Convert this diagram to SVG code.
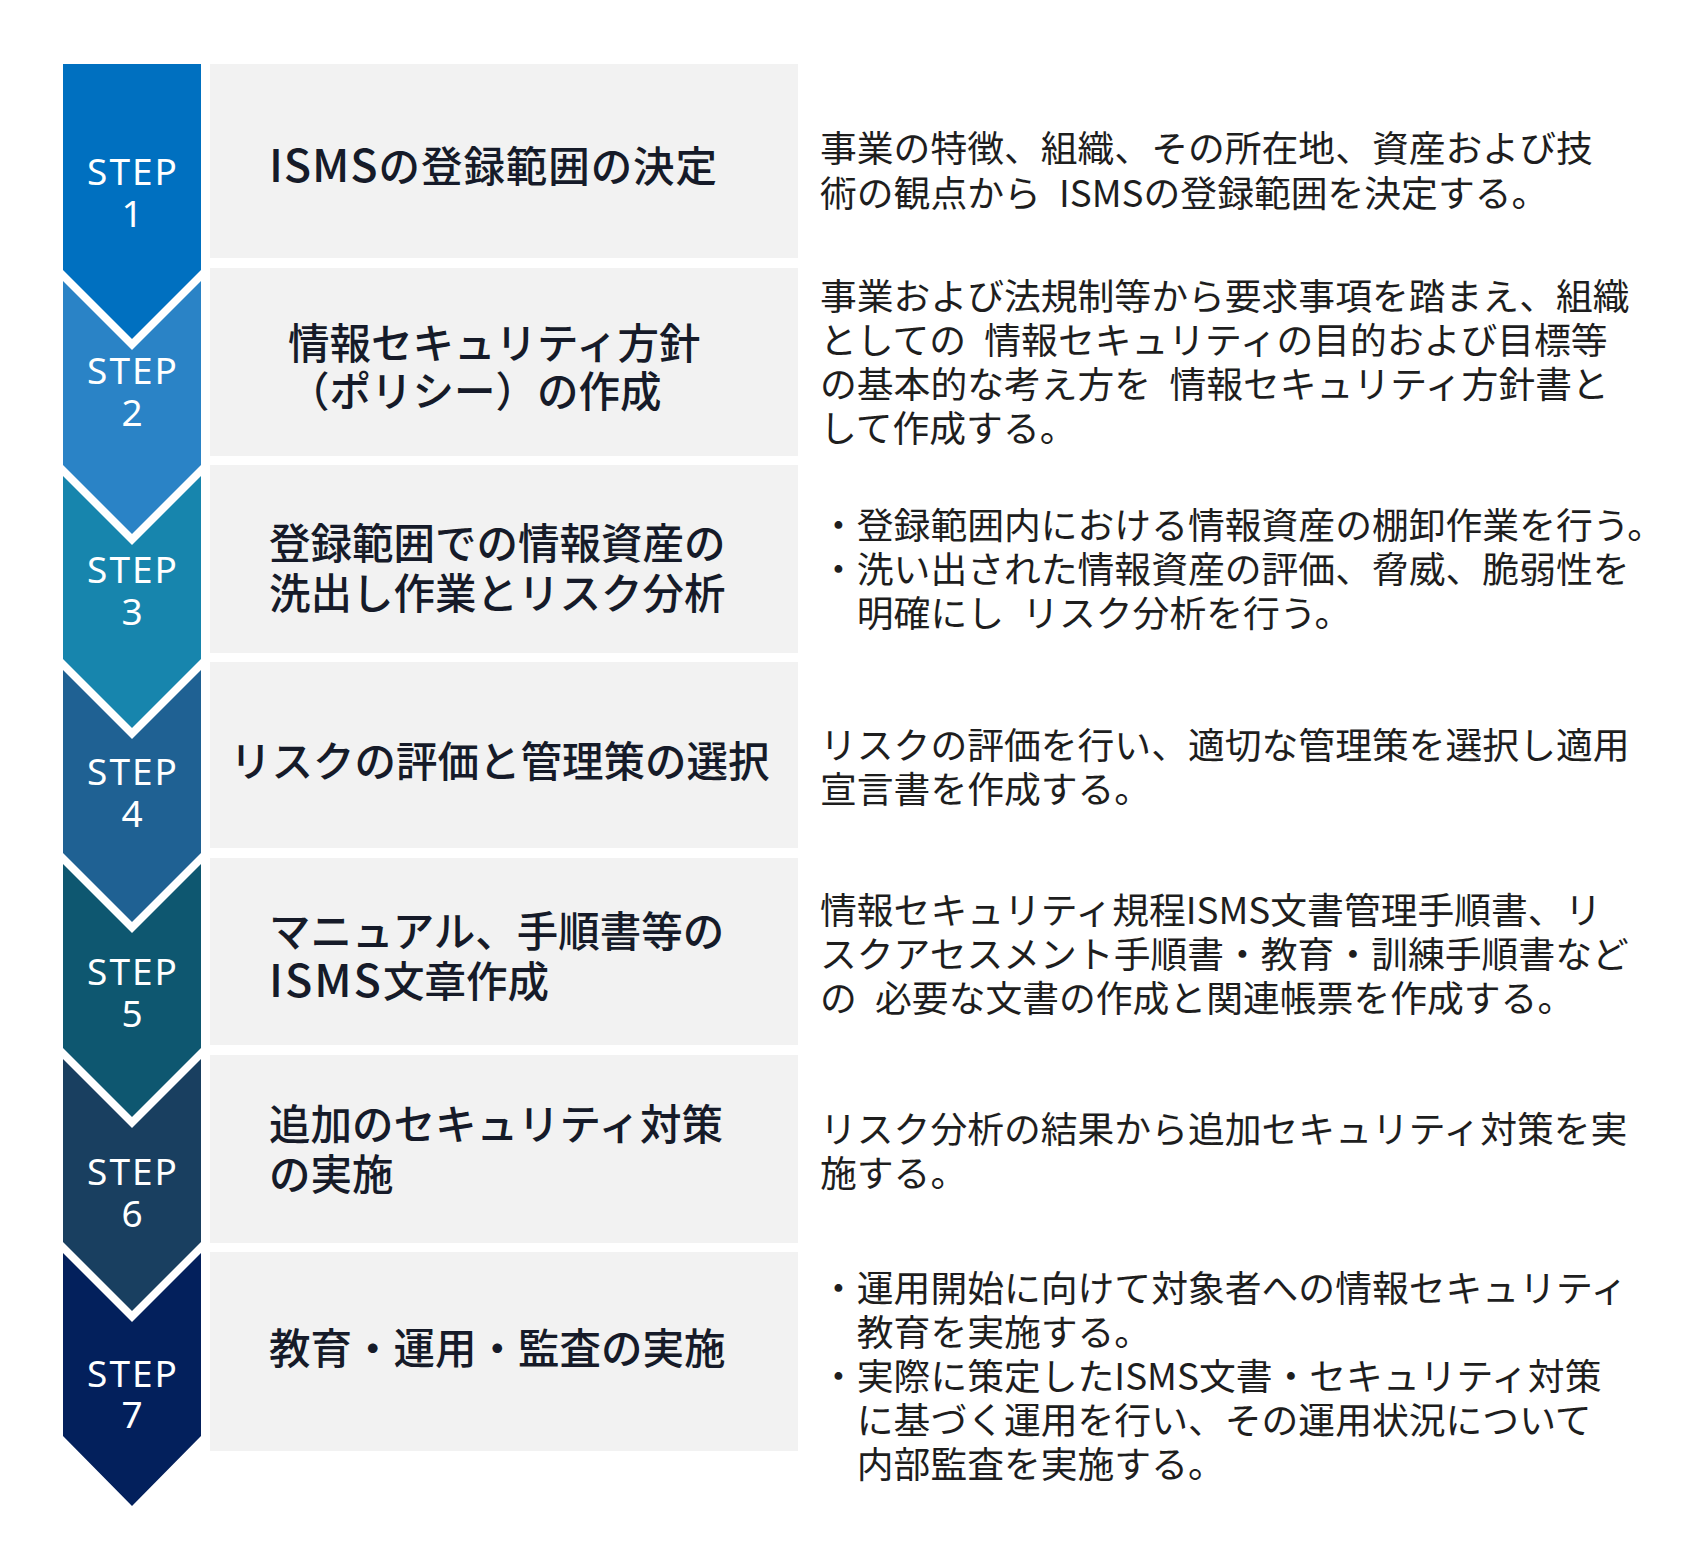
<svg xmlns="http://www.w3.org/2000/svg" width="1685" height="1550" viewBox="0 0 1685 1550">
<style>
.bg{fill:#ffffff}
.box{fill:#F2F2F2}
.title{font-family:"Noto Sans CJK JP","Noto Sans",sans-serif;font-size:41.5px;font-weight:500;fill:#161b29}
.lat{font-size:45px}
.desc{font-family:"Noto Sans CJK JP","Noto Sans",sans-serif;font-size:36.8px;fill:#1e1e1e;word-spacing:10px}
.step{font-family:"Noto Sans","Noto Sans CJK JP",sans-serif;font-size:37px;fill:#ffffff;text-anchor:middle;letter-spacing:2px}
.num{font-family:"Noto Sans","Noto Sans CJK JP",sans-serif;font-size:37px;fill:#ffffff;text-anchor:middle}
</style>
<rect class="bg" x="0" y="0" width="1685" height="1550"/>
<g id="connectors"/>
<g id="step1">
<polygon fill="#0070C0" points="63,64 201,64 201,270 132,339 63,270"/>
<rect class="box" x="210" y="64" width="588" height="194"/>
<text class="step" x="133" y="185">STEP</text>
<text class="num" x="132" y="227">1</text>
<text class="title" x="269" y="182" textLength="448" lengthAdjust="spacing"><tspan class="lat">ISMS</tspan>の登録範囲の決定</text>
<text class="desc" x="820" y="162">事業の特徴、組織、その所在地、資産および技</text>
<text class="desc" x="820" y="207">術の観点から ISMSの登録範囲を決定する。</text>
</g>
<g id="step2">
<polygon fill="#2A83C6" points="63,281 132,350 201,281 201,465 132,534 63,465"/>
<rect class="box" x="210" y="268" width="588" height="188"/>
<text class="step" x="133" y="384">STEP</text>
<text class="num" x="132" y="426">2</text>
<text class="title" x="288" y="359">情報セキュリティ方針</text>
<text class="title" x="288" y="407">（ポリシー）の作成</text>
<text class="desc" x="820" y="310">事業および法規制等から要求事項を踏まえ、組織</text>
<text class="desc" x="820" y="354">としての 情報セキュリティの目的および目標等</text>
<text class="desc" x="820" y="398">の基本的な考え方を 情報セキュリティ方針書と</text>
<text class="desc" x="820" y="442">して作成する。</text>
</g>
<g id="step3">
<polygon fill="#1785AD" points="63,476 132,545 201,476 201,659 132,728 63,659"/>
<rect class="box" x="210" y="465" width="588" height="188"/>
<text class="step" x="133" y="583">STEP</text>
<text class="num" x="132" y="625">3</text>
<text class="title" x="269" y="559">登録範囲での情報資産の</text>
<text class="title" x="269" y="609">洗出し作業とリスク分析</text>
<text class="desc" x="820" y="539">・登録範囲内における情報資産の棚卸作業を行う。</text>
<text class="desc" x="820" y="583">・洗い出された情報資産の評価、脅威、脆弱性を</text>
<text class="desc" x="856.8" y="627">明確にし リスク分析を行う。</text>
</g>
<g id="step4">
<polygon fill="#1F6193" points="63,670 132,739 201,670 201,853 132,922 63,853"/>
<rect class="box" x="210" y="662" width="588" height="186"/>
<text class="step" x="133" y="785">STEP</text>
<text class="num" x="132" y="827">4</text>
<text class="title" x="230" y="777">リスクの評価と管理策の選択</text>
<text class="desc" x="820" y="759">リスクの評価を行い、適切な管理策を選択し適用</text>
<text class="desc" x="820" y="803">宣言書を作成する。</text>
</g>
<g id="step5">
<polygon fill="#0E5770" points="63,864 132,933 201,864 201,1048 132,1117 63,1048"/>
<rect class="box" x="210" y="858" width="588" height="187"/>
<text class="step" x="133" y="985">STEP</text>
<text class="num" x="132" y="1027">5</text>
<text class="title" x="269" y="947">マニュアル、手順書等の</text>
<text class="title" x="269" y="997"><tspan class="lat" letter-spacing="2">ISMS</tspan>文章作成</text>
<text class="desc" x="820" y="924">情報セキュリティ規程ISMS文書管理手順書、リ</text>
<text class="desc" x="820" y="968">スクアセスメント手順書・教育・訓練手順書など</text>
<text class="desc" x="820" y="1012">の 必要な文書の作成と関連帳票を作成する。</text>
</g>
<g id="step6">
<polygon fill="#193F60" points="63,1059 132,1128 201,1059 201,1242 132,1311 63,1242"/>
<rect class="box" x="210" y="1055" width="588" height="188"/>
<text class="step" x="133" y="1185">STEP</text>
<text class="num" x="132" y="1227">6</text>
<text class="title" x="269" y="1140">追加のセキュリティ対策</text>
<text class="title" x="269" y="1190">の実施</text>
<text class="desc" x="820" y="1143">リスク分析の結果から追加セキュリティ対策を実</text>
<text class="desc" x="820" y="1187">施する。</text>
</g>
<g id="step7">
<polygon fill="#03205C" points="63,1253 132,1322 201,1253 201,1436 132,1506 63,1436"/>
<rect class="box" x="210" y="1252" width="588" height="199"/>
<text class="step" x="133" y="1387">STEP</text>
<text class="num" x="132" y="1428">7</text>
<text class="title" x="269" y="1364">教育・運用・監査の実施</text>
<text class="desc" x="820" y="1302">・運用開始に向けて対象者への情報セキュリティ</text>
<text class="desc" x="856.8" y="1346">教育を実施する。</text>
<text class="desc" x="820" y="1390">・実際に策定したISMS文書・セキュリティ対策</text>
<text class="desc" x="856.8" y="1434">に基づく運用を行い、その運用状況について</text>
<text class="desc" x="856.8" y="1478">内部監査を実施する。</text>
</g>
</svg>
